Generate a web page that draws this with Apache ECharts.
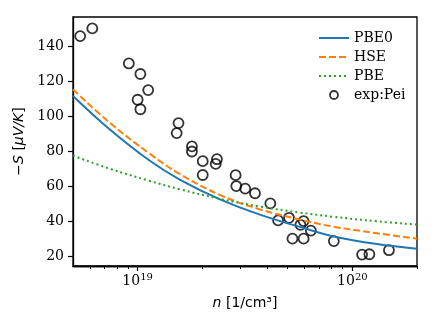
<!DOCTYPE html>
<html>
<head>
<meta charset="utf-8">
<script src="https://cdn.jsdelivr.net/npm/echarts@6/dist/echarts.min.js"></script>
<style>
  html, body { margin: 0; padding: 0; background: #fff; }
  #chart { width: 436px; height: 327px; }
</style>
</head>
<body>
<div id="chart"></div>
<script>
// carrier density grid for the calculated curves [1/cm^3]
const curveN = [5e18, 7.4e18, 1.14e19, 1.57e19, 2.42e19, 3.71e19, 5.69e19, 8.1e19, 1.3e20, 2e20]
const pbe0 = [111.5, 92.5, 74.5, 63.8, 52.5, 43.8, 36.8, 31.5, 27.0, 24.4]
const hse = [115.2, 96.3, 78.5, 67.0, 55.0, 46.8, 41.0, 37.0, 33.2, 30.1]
const pbe = [77.5, 70.0, 63.0, 58.3, 52.8, 48.4, 45.0, 42.6, 40.0, 38.1]

// experiment (Pei)
const expN = [5.4e18, 6.15e18, 9.1e18, 1.03e19, 1.12e19, 1.0e19, 1.03e19, 1.55e19, 1.52e19, 1.79e19,
  1.79e19, 2.01e19, 2.01e19, 2.31e19, 2.34e19, 2.86e19, 2.88e19, 3.17e19, 3.52e19, 4.15e19,
  4.51e19, 5.07e19, 5.26e19, 5.73e19, 5.93e19, 5.93e19, 6.41e19, 8.2e19, 1.11e20, 1.2e20, 1.48e20]
const expS = [145.6, 150, 130, 124, 114.8, 109.3, 103.9, 96, 90.3, 82.7,
  79.8, 74.3, 66.4, 72.7, 75.4, 66.3, 60.1, 58.6, 56, 50.2,
  40.5, 42, 30.1, 38, 40.1, 30.1, 34.7, 28.7, 21, 21.2, 23.5]

const xMajor = [1e19, 1e20]
const xMinor = [6e18, 7e18, 8e18, 9e18, 2e19, 3e19, 4e19, 5e19, 6e19, 7e19, 8e19, 9e19, 2e20]
const yTicks = [20, 40, 60, 80, 100, 120, 140]

const pair = (xs, ys) => xs.map((x, i) => [x, ys[i]])

const serif = 'DejaVu Serif'
const sans = 'DejaVu Sans'

const chart = echarts.init(document.getElementById('chart'))

const xBase = {
  type: 'log',
  logBase: 10,
  min: 5e18,
  max: 2e20,
  position: 'bottom',
  splitLine: { show: false }
}

// legend entries for lines: hide the marker, keep the line
const noMarker = { color: 'transparent', borderWidth: 0, borderColor: 'transparent' }

chart.setOption({
  animation: false,
  grid: {
    left: 73, right: 19, top: 17, bottom: 61,
    show: true, borderColor: '#000', borderWidth: 1.3, backgroundColor: 'transparent'
  },
  legend: {
    orient: 'vertical',
    left: 313,
    top: 26,
    itemWidth: 30,
    itemHeight: 8,
    itemGap: 5,
    textStyle: { fontFamily: serif, fontSize: 14, color: '#000' },
    data: [
      { name: 'PBE0', itemStyle: noMarker },
      { name: 'HSE', itemStyle: noMarker },
      { name: 'PBE', itemStyle: noMarker },
      { name: 'exp:Pei', icon: 'circle', itemStyle: { color: 'transparent', borderColor: '#000', borderWidth: 1.8 } }
    ]
  },
  xAxis: [
    Object.assign({}, xBase, {
      name: '{i|n} [1/cm³]',
      nameLocation: 'middle',
      nameGap: 30,
      nameTextStyle: {
        fontFamily: sans, fontSize: 14, color: '#000',
        rich: { i: { fontFamily: sans, fontStyle: 'italic', fontSize: 14 } }
      },
      axisLine: { lineStyle: { color: '#000', width: 1.3 } },
      axisTick: { customValues: xMajor, length: 5, lineStyle: { color: '#000', width: 1.2 } },
      axisLabel: {
        customValues: xMajor,
        margin: 6,
        formatter: v => '{b|10}{s|' + Math.round(Math.log10(v)) + '}',
        rich: {
          b: { fontFamily: serif, fontSize: 14, color: '#000' },
          s: { fontFamily: serif, fontSize: 10, color: '#000', padding: [0, 0, 9, 0] }
        }
      }
    }),
    // minor ticks (ticks only render with the axis line on)
    Object.assign({}, xBase, {
      gridIndex: 0,
      axisLine: { show: true, lineStyle: { color: '#000', width: 1.3 } },
      axisTick: { show: true, customValues: xMinor, length: 3, lineStyle: { color: '#000', width: 1 } },
      axisLabel: { show: false }
    })
  ],
  yAxis: {
    type: 'value',
    min: 14.5,
    max: 156.5,
    name: '−{i|S} [{i|μV/K}]',
    nameLocation: 'middle',
    nameGap: 42,
    nameRotate: 90,
    nameTextStyle: {
      fontFamily: sans, fontSize: 14, color: '#000',
      rich: { i: { fontFamily: sans, fontStyle: 'italic', fontSize: 14 } }
    },
    splitLine: { show: false },
    axisLine: { show: true, lineStyle: { color: '#000', width: 1.3 } },
    axisTick: { customValues: yTicks, length: 5, lineStyle: { color: '#000', width: 1.2 } },
    axisLabel: { customValues: yTicks, margin: 9, fontFamily: serif, fontSize: 14, color: '#000' }
  },
  series: [
    {
      name: 'PBE0', type: 'line', data: pair(curveN, pbe0), smooth: 0.4, symbol: 'none',
      lineStyle: { color: '#1f77b4', width: 2 }, itemStyle: { color: '#1f77b4' }
    },
    {
      name: 'HSE', type: 'line', data: pair(curveN, hse), smooth: 0.4, symbol: 'none',
      lineStyle: { color: '#ff7f0e', width: 2, type: [7, 3] }, itemStyle: { color: '#ff7f0e' }
    },
    {
      name: 'PBE', type: 'line', data: pair(curveN, pbe), smooth: 0.4, symbol: 'none',
      lineStyle: { color: '#2ca02c', width: 2, type: [2, 3] }, itemStyle: { color: '#2ca02c' }
    },
    {
      name: 'exp:Pei', type: 'scatter', data: pair(expN, expS), symbol: 'circle', symbolSize: 10,
      itemStyle: { color: 'transparent', borderColor: '#000', borderWidth: 1.8 }
    }
  ]
})
</script>
</body>
</html>
